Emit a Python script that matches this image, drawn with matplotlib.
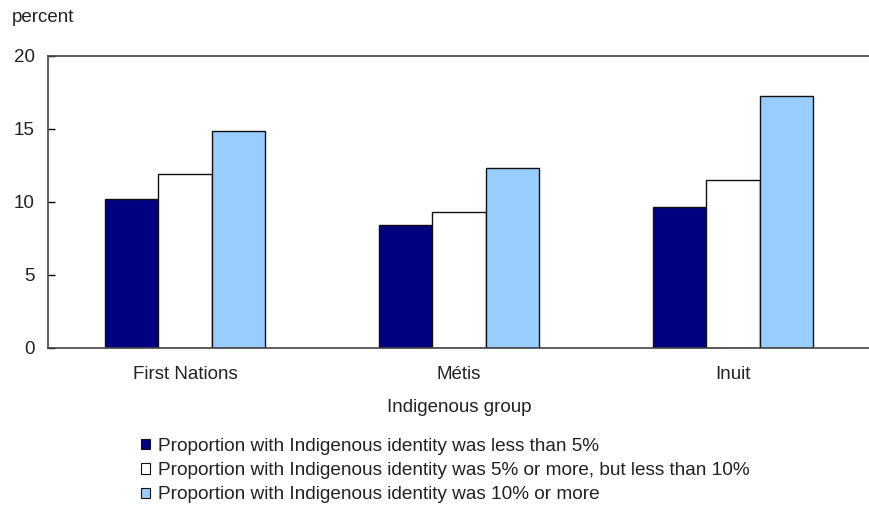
#!/usr/bin/env python3
# Grouped bar chart: percent by Indigenous group and local identity share

import numpy as np
import matplotlib.pyplot as plt
from matplotlib.patches import Patch

groups = ["First Nations", "Métis", "Inuit"]
series_labels = [
    "Proportion with Indigenous identity was less than 5%",
    "Proportion with Indigenous identity was 5% or more, but less than 10%",
    "Proportion with Indigenous identity was 10% or more",
]
less_than_5 = [10.2, 8.4, 9.6]
from_5_to_10 = [11.9, 9.3, 11.5]
ten_or_more = [14.8, 12.3, 17.2]
colors = ["#000080", "#ffffff", "#99ccff"]

plt.rcParams['font.family'] = ['Liberation Sans', 'DejaVu Sans']
text_color = "#222222"
fs = 13.5

fig = plt.figure(figsize=(8.7, 5.2), dpi=100)
ax = fig.add_axes([48 / 870, 1 - 347.7 / 520, 1 - 48 / 870, (347.7 - 55.5) / 520])

x = np.arange(len(groups))
width = 0.194
for i, (vals, col) in enumerate(zip([less_than_5, from_5_to_10, ten_or_more], colors)):
    ax.bar(x + (i - 1) * width, vals, width, color=col, edgecolor="#111111",
           linewidth=1.0, zorder=2)

ax.set_xlim(-0.5, 2.5)
ax.set_ylim(0, 20)
ax.set_yticks([0, 5, 10, 15, 20])
ax.set_xticks(x)
ax.set_xticklabels(groups)
ax.tick_params(axis='x', length=0, pad=13, labelsize=fs, labelcolor=text_color)
ax.tick_params(axis='y', direction='in', length=5, width=1, pad=9.5,
               labelsize=fs, labelcolor=text_color)

ax.spines['right'].set_visible(False)
for side in ['left', 'top', 'bottom']:
    ax.spines[side].set_color("#444444")
    ax.spines[side].set_linewidth(1.2)

fig.text(12 / 870, 1 - 18 / 520, "percent", fontsize=fs, color=text_color,
         ha='left', va='center')
fig.text(459 / 870, 1 - 407 / 520, "Indigenous group", fontsize=fs,
         color=text_color, ha='center', va='center')

handles = [Patch(facecolor=c, edgecolor="#111111", linewidth=0.8) for c in colors]
fig.legend(handles, series_labels, loc='upper left',
           bbox_to_anchor=(141 / 870, 1 - 438 / 520), frameon=False,
           fontsize=13.7, handlelength=0.45, handleheight=0.45, handletextpad=0.45,
           labelspacing=0.38, labelcolor=text_color, borderaxespad=0, borderpad=0)

fig.savefig("out.png", dpi=100)
